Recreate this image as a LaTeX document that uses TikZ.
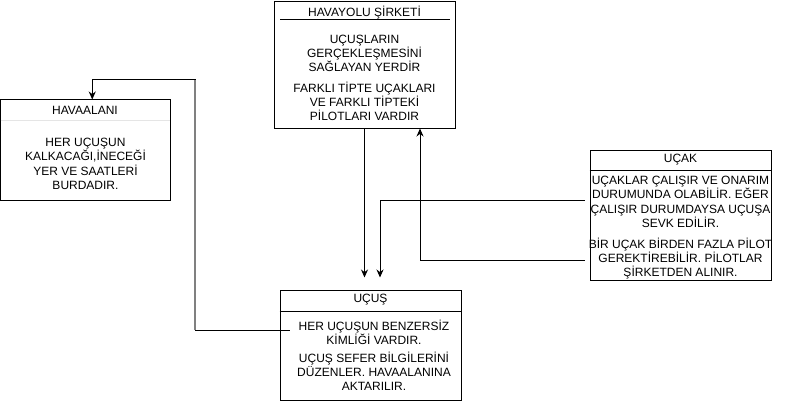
\documentclass[tikz,border=0pt]{standalone}
\usepackage{fontspec}
\setmainfont{Liberation Sans}
\usetikzlibrary{arrows.meta}

\begin{document}
\begin{tikzpicture}[x=1pt,y=-1pt,
    box/.style={draw,line width=1pt,rectangle,inner sep=0pt},
    txt/.style={inner sep=0pt,align=center,font=\fontsize{12}{14}\selectfont},
    arr/.style={line width=1pt,-{Stealth[length=8pt,width=7pt]}}]
    \useasboundingbox (0,0) rectangle (786,401);
    % boxes
    \node[box,minimum width=181pt,minimum height=126pt] (havayolu) at (364.5,65) {};
    \node[box,minimum width=169.5pt,minimum height=100pt] (havaalani) at (85.25,150) {};
    \node[box,minimum width=181pt,minimum height=130pt] (ucak) at (680.5,215) {};
    \node[box,minimum width=181pt,minimum height=110pt] (ucus) at (370.5,345) {};
    % header lines
    \draw[line width=1pt] (280,20) -- (450,20);
    \draw[gray!20] (0.5,120) -- (170,120);
    \draw[line width=1pt] (ucak.west |- 0,170) -- (ucak.east |- 0,170);
    \draw[line width=1pt] (ucus.west |- 0,311) -- (ucus.east |- 0,311);
    % texts
    \node[txt] (havayoluh) at (364.5,13) {HAVAYOLU ŞİRKETİ};
    \node[txt] (havayolua) at (364.5,53) {UÇUŞLARIN\\GERÇEKLEŞMESİNİ\\SAĞLAYAN YERDİR};
    \node[txt] (havayolub) at (364.5,101) {FARKLI TİPTE UÇAKLARI\\VE FARKLI TİPTEKİ\\PİLOTLARI VARDIR};
    \node[txt] (havaalanih) at (85,110) {HAVAALANI};
    \node[txt,font=\fontsize{12}{14.5}\selectfont] (havaalania) at (85.5,164) {HER UÇUŞUN\\KALKACAĞI,İNECEĞİ\\YER VE SAATLERİ\\BURDADIR.};
    \node[txt] (ucakh) at (680.5,160) {UÇAK};
    \node[txt,font=\fontsize{12}{14.5}\selectfont] (ucaka) at (680.5,202) {UÇAKLAR ÇALIŞIR VE ONARIM\\DURUMUNDA OLABİLİR. EĞER\\ÇALIŞIR DURUMDAYSA UÇUŞA\\SEVK EDİLİR.};
    \node[txt] (ucakb) at (680.5,259) {BİR UÇAK BİRDEN FAZLA PİLOT\\GEREKTİREBİLİR. PİLOTLAR\\ŞİRKETDEN ALINIR.};
    \node[txt] (ucush) at (370.5,300) {UÇUŞ};
    \node[txt] (ucusa) at (374,332) {HER UÇUŞUN BENZERSİZ\\KİMLİĞİ VARDIR.};
    \node[txt] (ucusb) at (374,371) {UÇUŞ SEFER BİLGİLERİNİ\\DÜZENLER. HAVAALANINA\\AKTARILIR.};
    % connectors
    \coordinate (bendA) at (195,330);
    \coordinate (bendB) at (195,80);
    \draw[arr] (havayolu.south) -- ([yshift=12pt]ucus.north -| havayolu.south);
    \draw[arr] ([xshift=-5pt,yshift=15pt]ucak.west) -| ([xshift=9.5pt,yshift=12pt]ucus.north);
    \draw[arr] ([xshift=-5pt,yshift=-45pt]ucak.west) -| ([xshift=55.5pt]havayolu.south);
    \draw[arr] ([xshift=10pt,yshift=15pt]ucus.west) -- (bendA) -- (bendB)
        -| ([xshift=7pt]havaalani.north);
    \draw[gray,line width=2pt] (bendA) -- (bendB);
\end{tikzpicture}
\end{document}
